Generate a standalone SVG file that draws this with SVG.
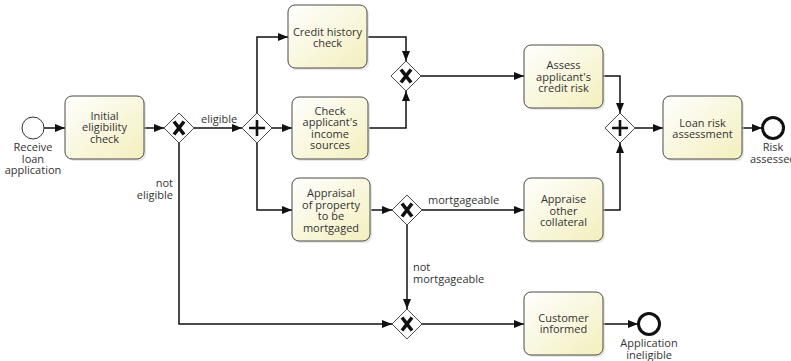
<svg xmlns="http://www.w3.org/2000/svg" width="791" height="361" viewBox="0 0 791 361">
  <defs>
    <linearGradient id="taskFill" x1="0" y1="0" x2="1" y2="1">
      <stop offset="0" stop-color="#ffffff"/>
      <stop offset="1" stop-color="#f3efbd"/>
    </linearGradient>
    <marker id="arrow" viewBox="0 0 10 8" refX="10" refY="4" markerWidth="10" markerHeight="8" markerUnits="userSpaceOnUse" orient="auto">
      <path d="M0,0 L10,4 L0,8 Z" fill="#111"/>
    </marker>
    <symbol id="xmark" viewBox="-15 -15 30 30" overflow="visible">
      <path d="M-5,-6.5 L5,6.5 M5,-6.5 L-5,6.5" stroke="#111" stroke-width="3.6" stroke-linecap="butt" fill="none"/>
    </symbol>
  </defs>
  <style>
    .task rect.shadow { fill: #cfcfc8; opacity: 0.5; }
    .task rect.body { fill: url(#taskFill); stroke: #4a4a4a; stroke-width: 1; }
    .gw polygon { fill: #ffffff; stroke: #4a4a4a; stroke-width: 1; }
    .xm { stroke: #111; stroke-width: 3.6; fill: none; }
    .pm { stroke: #111; stroke-width: 2.6; fill: none; }
    .start circle { fill: #ffffff; stroke: #333; stroke-width: 1; }
    .end circle { fill: #ffffff; stroke: #111; stroke-width: 3; }
    text { font-family: "Open Sans", "Noto Sans", "DejaVu Sans", sans-serif; font-size: 11px; fill: #333; }
    .c { text-anchor: middle; }
    .r { text-anchor: end; }
    #connectors path { fill: none; stroke: #111; stroke-width: 1.5; marker-end: url(#arrow); }
  </style>

  <!-- sequence flows -->
  <g id="connectors">
    <path d="M44,128 L65,128"/>
    <path d="M144,128 L164,128"/>
    <path d="M194,128 L242,128"/>
    <path d="M257,113 L257,37 L288,37"/>
    <path d="M272,128 L292,128"/>
    <path d="M257,143 L257,210 L292,210"/>
    <path d="M368,37 L406,37 L406,61"/>
    <path d="M369,128 L406,128 L406,91"/>
    <path d="M421,76 L524,76"/>
    <path d="M603,76 L620,76 L620,113"/>
    <path d="M371,210 L392,210"/>
    <path d="M422,210 L524,210"/>
    <path d="M603,210 L620,210 L620,143"/>
    <path d="M635,128 L663,128"/>
    <path d="M742,128 L762,128"/>
    <path d="M407,225 L407,309"/>
    <path d="M179,143 L179,324 L392,324"/>
    <path d="M422,324 L524,324"/>
    <path d="M603,324 L638,324"/>
  </g>

  <!-- flow labels -->
  <g id="flow-labels">
    <text x="201" y="123">eligible</text>
    <text class="r" x="173" y="187">not</text>
    <text class="r" x="173" y="198.5">eligible</text>
    <text x="428" y="204">mortgageable</text>
    <text x="413" y="271">not</text>
    <text x="413" y="282.5">mortgageable</text>
  </g>

  <!-- events -->
  <g id="start" class="start">
    <circle cx="33" cy="128" r="11"/>
    <text class="c" x="33" y="151">Receive</text>
    <text class="c" x="33" y="162.5">loan</text>
    <text class="c" x="33" y="174">application</text>
  </g>
  <g id="end-risk" class="end">
    <circle cx="773" cy="128" r="10.5"/>
    <text class="c" x="773" y="151">Risk</text>
    <text class="c" x="773" y="162.5">assessed</text>
  </g>
  <g id="end-ineligible" class="end">
    <circle cx="649" cy="324" r="10.5"/>
    <text class="c" x="649" y="347">Application</text>
    <text class="c" x="649" y="358.5">ineligible</text>
  </g>

  <!-- tasks -->
  <g id="task-eligibility" class="task">
    <rect class="shadow" x="67" y="98" width="79" height="63" rx="7"/>
    <rect class="body" x="65" y="96" width="79" height="63" rx="7"/>
    <text class="c" x="104.5" y="119.5">Initial</text>
    <text class="c" x="104.5" y="131">eligibility</text>
    <text class="c" x="104.5" y="142.5">check</text>
  </g>
  <g id="task-credit-history" class="task">
    <rect class="shadow" x="290" y="7" width="79" height="63" rx="7"/>
    <rect class="body" x="288" y="5" width="79" height="63" rx="7"/>
    <text class="c" x="327.5" y="35.5">Credit history</text>
    <text class="c" x="327.5" y="47">check</text>
  </g>
  <g id="task-income" class="task">
    <rect class="shadow" x="294" y="99" width="76" height="62" rx="7"/>
    <rect class="body" x="292" y="97" width="76" height="62" rx="7"/>
    <text class="c" x="330" y="114.5">Check</text>
    <text class="c" x="330" y="126">applicant's</text>
    <text class="c" x="330" y="137.5">income</text>
    <text class="c" x="330" y="149">sources</text>
  </g>
  <g id="task-appraisal" class="task">
    <rect class="shadow" x="294" y="180" width="78" height="63" rx="7"/>
    <rect class="body" x="292" y="178" width="78" height="63" rx="7"/>
    <text class="c" x="331" y="197">Appraisal</text>
    <text class="c" x="331" y="208.5">of property</text>
    <text class="c" x="331" y="220">to be</text>
    <text class="c" x="331" y="231.5">mortgaged</text>
  </g>
  <g id="task-credit-risk" class="task">
    <rect class="shadow" x="526" y="47" width="79" height="63" rx="7"/>
    <rect class="body" x="524" y="45" width="79" height="63" rx="7"/>
    <text class="c" x="563.5" y="69">Assess</text>
    <text class="c" x="563.5" y="80.5">applicant's</text>
    <text class="c" x="563.5" y="92">credit risk</text>
  </g>
  <g id="task-collateral" class="task">
    <rect class="shadow" x="526" y="180" width="79" height="63" rx="7"/>
    <rect class="body" x="524" y="178" width="79" height="63" rx="7"/>
    <text class="c" x="563.5" y="203">Appraise</text>
    <text class="c" x="563.5" y="214.5">other</text>
    <text class="c" x="563.5" y="226">collateral</text>
  </g>
  <g id="task-customer" class="task">
    <rect class="shadow" x="526" y="294" width="79" height="63" rx="7"/>
    <rect class="body" x="524" y="292" width="79" height="63" rx="7"/>
    <text class="c" x="563.5" y="321.5">Customer</text>
    <text class="c" x="563.5" y="333">informed</text>
  </g>
  <g id="task-loan-risk" class="task">
    <rect class="shadow" x="665" y="98" width="79" height="63" rx="7"/>
    <rect class="body" x="663" y="96" width="79" height="63" rx="7"/>
    <text class="c" x="702.5" y="126.5">Loan risk</text>
    <text class="c" x="702.5" y="138">assessment</text>
  </g>

  <!-- gateways -->
  <g id="gw-eligible" class="gw" transform="translate(179,128)">
    <polygon points="0,-15 15,0 0,15 -15,0"/>
    <path class="xm" d="M-5,-6.5 L5,6.5 M5,-6.5 L-5,6.5"/>
  </g>
  <g id="gw-split" class="gw" transform="translate(257,128)">
    <polygon points="0,-15 15,0 0,15 -15,0"/>
    <path class="pm" d="M0,-8 L0,8 M-8,0 L8,0"/>
  </g>
  <g id="gw-credit-merge" class="gw" transform="translate(406,76)">
    <polygon points="0,-15 15,0 0,15 -15,0"/>
    <path class="xm" d="M-5,-6.5 L5,6.5 M5,-6.5 L-5,6.5"/>
  </g>
  <g id="gw-join" class="gw" transform="translate(620,128)">
    <polygon points="0,-15 15,0 0,15 -15,0"/>
    <path class="pm" d="M0,-8 L0,8 M-8,0 L8,0"/>
  </g>
  <g id="gw-mortgage" class="gw" transform="translate(407,210)">
    <polygon points="0,-15 15,0 0,15 -15,0"/>
    <path class="xm" d="M-5,-6.5 L5,6.5 M5,-6.5 L-5,6.5"/>
  </g>
  <g id="gw-reject" class="gw" transform="translate(407,324)">
    <polygon points="0,-15 15,0 0,15 -15,0"/>
    <path class="xm" d="M-5,-6.5 L5,6.5 M5,-6.5 L-5,6.5"/>
  </g>
</svg>
